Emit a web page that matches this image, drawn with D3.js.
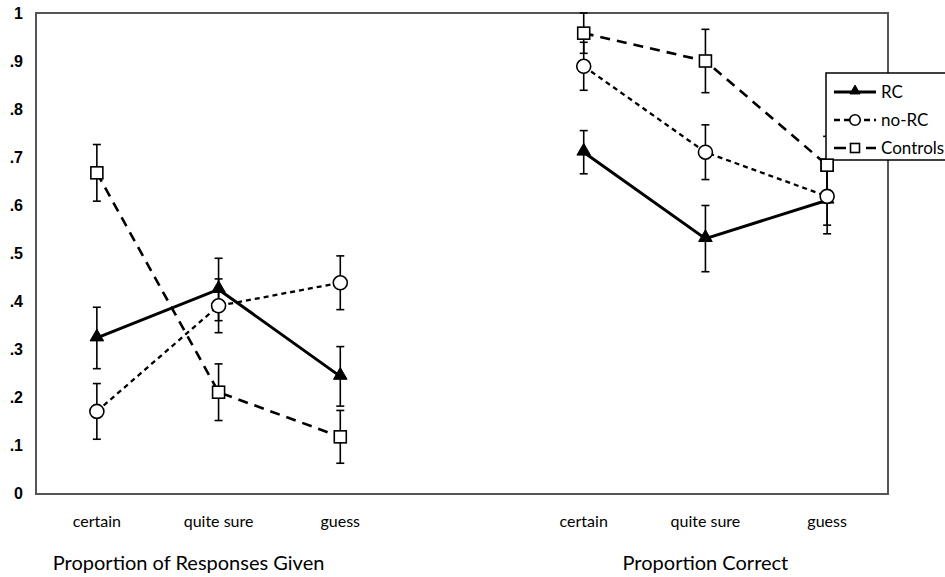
<!DOCTYPE html>
<html>
<head>
<meta charset="utf-8">
<script src="https://cdn.jsdelivr.net/npm/d3@7"></script>
<style>
  body { margin: 0; background: #fff; }
  svg { display: block; }
</style>
</head>
<body>
<script>
// Categories and panels
var categories = ["certain", "quite sure", "guess"];
var panels = ["Proportion of Responses Given", "Proportion Correct"];
var seriesNames = ["RC", "no-RC", "Controls"];
var yTicks = [0, 0.1, 0.2, 0.3, 0.4, 0.5, 0.6, 0.7, 0.8, 0.9, 1];
var yTickLabels = ["0", ".1", ".2", ".3", ".4", ".5", ".6", ".7", ".8", ".9", "1"];

// Proportion of responses given (values + error half-widths)
var rcGiven = [0.323, 0.424, 0.243];
var rcGivenErr = [0.064, 0.065, 0.062];
var noRcGiven = [0.170, 0.390, 0.438];
var noRcGivenErr = [0.058, 0.056, 0.056];
var ctrlGiven = [0.667, 0.210, 0.117];
var ctrlGivenErr = [0.059, 0.059, 0.055];

// Proportion correct
var rcCorrect = [0.710, 0.530, 0.610];
var rcCorrectErr = [0.045, 0.069, 0.070];
var noRcCorrect = [0.889, 0.710, 0.618];
var noRcCorrectErr = [0.050, 0.057, 0.060];
var ctrlCorrect = [0.958, 0.900, 0.683];
var ctrlCorrectErr = [0.042, 0.066, 0.060];

var width = 945, height = 577;
var frame = {left: 36, top: 13, right: 888, bottom: 494};

var svg = d3.select(document.body).append("svg")
  .attr("width", width).attr("height", height);

// slots: 3 categories, one empty gap, 3 categories
var slots = [];
panels.forEach(function(p, i) {
  categories.forEach(function(c) { slots.push(i + "|" + c); });
  if (i === 0) slots.push("gap");
});

var x = d3.scaleBand().domain(slots).range([frame.left, frame.right]);
var xc = function(panel, cat) { return x(panel + "|" + cat) + x.bandwidth() / 2; };
var y = d3.scaleLinear().domain([0, 1]).range([493, 13]);

var series = [
  {name: "RC", style: "rc", vals: [rcGiven, rcCorrect], errs: [rcGivenErr, rcCorrectErr]},
  {name: "no-RC", style: "norc", vals: [noRcGiven, noRcCorrect], errs: [noRcGivenErr, noRcCorrectErr]},
  {name: "Controls", style: "ctrl", vals: [ctrlGiven, ctrlCorrect], errs: [ctrlGivenErr, ctrlCorrectErr]}
];
var lineStyle = {
  rc: {w: 3, dash: null},
  norc: {w: 2.3, dash: "5,4"},
  ctrl: {w: 2.6, dash: "10,7"}
};

// Frame
svg.append("path")
  .attr("d", "M" + frame.left + "," + frame.top + "H" + frame.right + "V" + frame.bottom + "H" + frame.left + "Z")
  .attr("fill", "none").attr("stroke", "#555").attr("stroke-width", 2);

// y labels
svg.append("g").selectAll("text")
  .data(yTicks)
  .enter().append("text")
  .attr("x", 23)
  .attr("y", function(d) { return y(d); })
  .attr("dy", "0.36em")
  .attr("text-anchor", "end")
  .style("font-family", "Liberation Sans, Arial, sans-serif")
  .style("font-weight", "bold")
  .style("font-size", "16px")
  .text(function(d, i) { return yTickLabels[i]; });

// lines
var line = d3.line().x(function(d) { return d[0]; }).y(function(d) { return d[1]; });
series.forEach(function(s) {
  panels.forEach(function(p, pi) {
    var pts = categories.map(function(c, ci) { return [xc(pi, c), y(s.vals[pi][ci])]; });
    svg.append("path")
      .datum(pts)
      .attr("d", line)
      .attr("fill", "none")
      .attr("stroke", "#000")
      .attr("stroke-width", lineStyle[s.style].w)
      .attr("stroke-dasharray", lineStyle[s.style].dash);
  });
});

// error bars
series.forEach(function(s) {
  panels.forEach(function(p, pi) {
    categories.forEach(function(c, ci) {
      var cx = xc(pi, c);
      var top = y(Math.min(1, s.vals[pi][ci] + s.errs[pi][ci]));
      var bot = y(s.vals[pi][ci] - s.errs[pi][ci]);
      var g = svg.append("g").attr("stroke", "#000").attr("stroke-width", 1.6);
      g.append("line").attr("x1", cx).attr("x2", cx).attr("y1", top).attr("y2", bot);
      g.append("line").attr("x1", cx - 4).attr("x2", cx + 4).attr("y1", top).attr("y2", top);
      g.append("line").attr("x1", cx - 4).attr("x2", cx + 4).attr("y1", bot).attr("y2", bot);
    });
  });
});

// markers (k scales the marker size)
function drawMarker(sel, style, cx, cy, k) {
  k = k || 1;
  if (style === "rc") {
    sel.append("path")
      .attr("d", d3.symbol().type(d3.symbolTriangle).size(80 * k * k)())
      .attr("transform", "translate(" + cx + "," + (cy - 1) + ")")
      .attr("fill", "#000").attr("stroke", "#000").attr("stroke-width", 1);
  } else if (style === "norc") {
    sel.append("circle")
      .attr("cx", cx).attr("cy", cy).attr("r", 7 * k)
      .attr("fill", "#fff").attr("stroke", "#000").attr("stroke-width", 1.6);
  } else {
    var h = 6 * k;
    sel.append("rect")
      .attr("x", cx - h).attr("y", cy - h).attr("width", 2 * h).attr("height", 2 * h)
      .attr("fill", "#fff").attr("stroke", "#000").attr("stroke-width", 1.6);
  }
}

var markers = svg.append("g");
series.forEach(function(s) {
  panels.forEach(function(p, pi) {
    categories.forEach(function(c, ci) {
      drawMarker(markers, s.style, xc(pi, c), y(s.vals[pi][ci]));
    });
  });
});

// category labels and panel titles
panels.forEach(function(p, pi) {
  categories.forEach(function(c) {
    svg.append("text")
      .attr("x", xc(pi, c)).attr("y", 527)
      .attr("text-anchor", "middle")
      .style("font-family", "Lato, sans-serif")
      .style("font-size", "16px")
      .text(c);
  });
  svg.append("text")
    .attr("x", xc(pi, categories[1]) - (pi === 0 ? 30 : 0)).attr("y", 570)
    .attr("text-anchor", "middle")
    .style("font-family", "Lato, sans-serif")
    .style("font-size", "20px")
    .text(p);
});

// legend
var legend = svg.append("g");
legend.append("rect")
  .attr("x", 826).attr("y", 73).attr("width", 130).attr("height", 87)
  .attr("fill", "#fff").attr("stroke", "#000").attr("stroke-width", 1.5);
var legY = [92, 120, 148];
var legDash = {rc: null, norc: "6,4", ctrl: "12,20"};
series.forEach(function(s, i) {
  var ly = legY[i];
  legend.append("line")
    .attr("x1", 834).attr("x2", 876).attr("y1", ly).attr("y2", ly)
    .attr("stroke", "#000")
    .attr("stroke-width", lineStyle[s.style].w)
    .attr("stroke-dasharray", legDash[s.style]);
  drawMarker(legend, s.style, 855, ly, 0.75);
  legend.append("text")
    .attr("x", 881).attr("y", ly).attr("dy", "0.36em")
    .style("font-family", "Lato, sans-serif")
    .style("font-size", "17px")
    .text(seriesNames[i]);
});
// the controls guess marker sits over the legend corner
drawMarker(svg, "ctrl", xc(1, "guess"), y(ctrlCorrect[2]));
</script>
</body>
</html>
